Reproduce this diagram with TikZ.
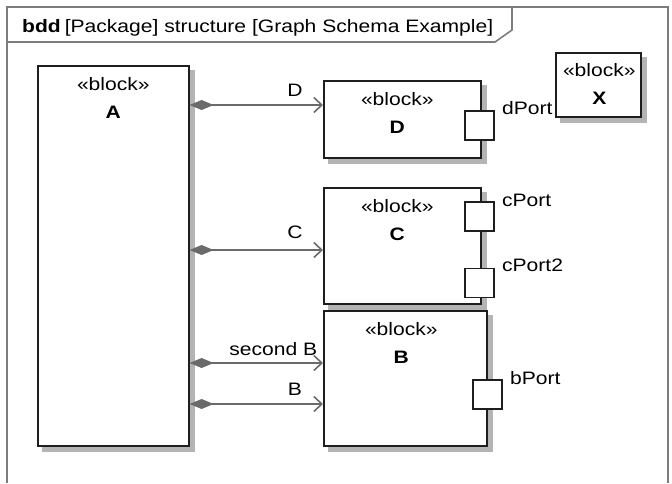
\documentclass[tikz,border=0pt]{standalone}
\usepackage{fontspec}
\setmainfont[FakeStretch=1.17]{Liberation Sans}
\usetikzlibrary{arrows.meta, positioning, backgrounds}
\definecolor{BlockLine}{HTML}{1E1E1E}
\definecolor{LinkGray}{HTML}{6A6A6A}
\definecolor{FrameGray}{HTML}{7D7D7D}
\definecolor{ShadowGray}{HTML}{B4B4B4}

\begin{document}
\begin{tikzpicture}[x=1pt, y=-1pt,
  block/.style={rectangle, draw=BlockLine, fill=white, line width=1.6pt, anchor=north west, inner sep=0pt},
  stereo/.style={align=center, inner sep=0pt, font=\fontsize{18}{28}\selectfont},
  port/.style={rectangle, draw=BlockLine, fill=white, line width=1.6pt, minimum size=29pt, inner sep=0pt},
  portlbl/.style={anchor=base west, inner sep=0pt, font=\fontsize{18}{22}\selectfont},
  rolelbl/.style={inner sep=0pt, font=\fontsize{18}{22}\selectfont},
  part/.style={{Diamond[length=24pt, width=10pt]}-{Straight Barb[length=8pt, width=15pt]}, line width=1.6pt, draw=LinkGray},
  frame/.style={draw=FrameGray, line width=1.6pt}
]
\useasboundingbox (0,0) rectangle (672,483);

\draw[frame] (7,483) -- (7,7) -- (668,7) -- (668,483);
\draw[frame] (7,42) -- (495,42) -- (512,30) -- (512,7);
\node[rolelbl, anchor=base west] (hdr) at (22,32) {\textbf{bdd}\hspace{4pt}[Package] structure [Graph Schema Example]};

\node[block, minimum width=151pt, minimum height=380pt] (A) at (37,65) {};
\node[block, minimum width=157pt, minimum height=77pt] (D) at (323,80) {};
\node[block, minimum width=85pt, minimum height=64pt] (X) at (555,52) {};
\node[block, minimum width=157pt, minimum height=116pt] (C) at (323,187) {};
\node[block, minimum width=163pt, minimum height=135pt] (B) at (323,310) {};

\begin{scope}[on background layer]
\foreach \b in {A,D,X,C,B}
  \fill[ShadowGray] ([shift={(5pt,-5pt)}]\b.south west) rectangle ([shift={(5pt,-5pt)}]\b.north east);
\end{scope}

\node[stereo, below=12pt of A.north] {«block»\\\textbf{A}};
\node[stereo, below=12pt of D.north, xshift=-5pt] {«block»\\\textbf{D}};
\node[stereo, below=11pt of X.north, xshift=1pt] {«block»\\\textbf{X}};
\node[stereo, below=12pt of C.north, xshift=-5pt] {«block»\\\textbf{C}};
\node[stereo, below=12pt of B.north, xshift=-4pt] {«block»\\\textbf{B}};

\node[port] (dp) at ([xshift=-2pt, yshift=-6pt]D.east) {};
\node[port] (cp) at ([xshift=-2pt, yshift=29.5pt]C.east) {};
\node[port] (cp2) at ([xshift=-2pt, yshift=-37pt]C.east) {};
\node[port] (bp) at ([yshift=-16pt]B.east) {};

\node[portlbl] at ([xshift=7pt, yshift=-4pt]dp.north east) {dPort};
\node[portlbl] at ([xshift=7pt, yshift=-5pt]cp.north east) {cPort};
\node[portlbl] at ([xshift=7pt, yshift=-4pt]cp2.north east) {cPort2};
\node[portlbl] at ([xshift=7pt, yshift=-5pt]bp.north east) {bPort};

\draw[part] (A.east |- 0,105) -- (D.west |- 0,105)
  node[rolelbl, anchor=base, pos=1, xshift=-28pt, yshift=9pt] {D};
\draw[part] (A.east |- 0,250) -- (C.west |- 0,250)
  node[rolelbl, anchor=base, pos=1, xshift=-28pt, yshift=12pt] {C};
\draw[part] (A.east |- 0,363) -- (B.west |- 0,363)
  node[rolelbl, anchor=base east, pos=1, xshift=-5pt, yshift=8pt] {second B};
\draw[part] (A.east |- 0,404) -- (B.west |- 0,404)
  node[rolelbl, anchor=base, pos=1, xshift=-28pt, yshift=9pt] {B};
\end{tikzpicture}
\end{document}
